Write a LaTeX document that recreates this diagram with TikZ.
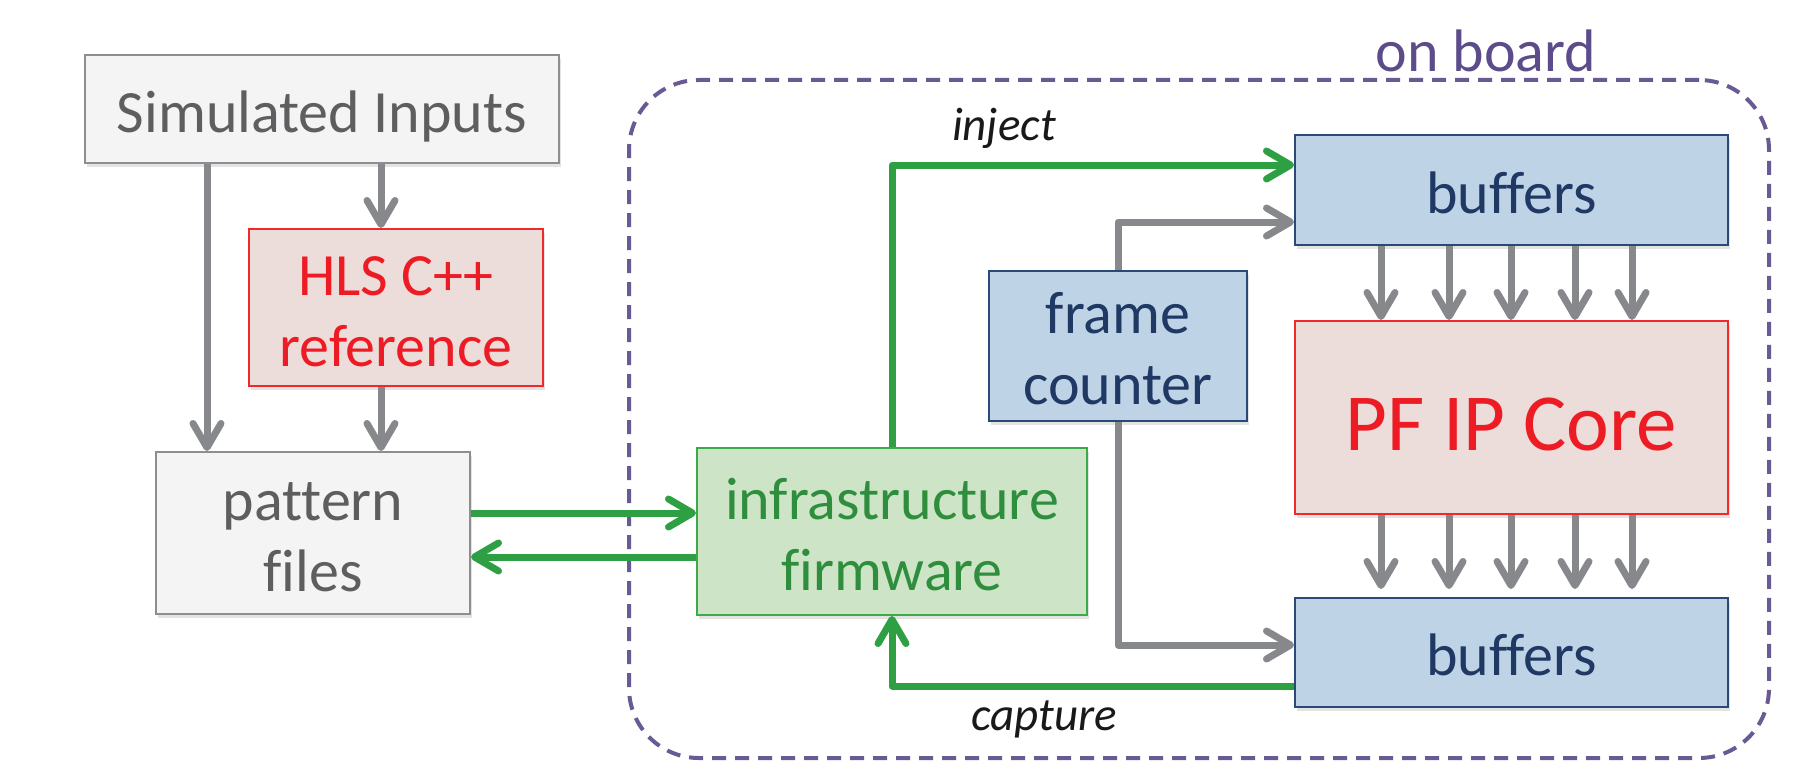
\documentclass[tikz,border=0pt]{standalone}
\usepackage{fontspec}
\setmainfont{Carlito}[Ligatures=CommonOff]
\usetikzlibrary{arrows.meta,shadows,calc}
\definecolor{gfill}{HTML}{F4F4F4}
\definecolor{gline}{HTML}{8E8E90}
\definecolor{gtext}{HTML}{5E5E61}
\definecolor{rfill}{HTML}{ECDDDA}
\definecolor{rline}{HTML}{EE2A2A}
\definecolor{rtext}{HTML}{ED1C24}
\definecolor{bfill}{HTML}{BED3E5}
\definecolor{bline}{HTML}{2A4A75}
\definecolor{btext}{HTML}{1F3864}
\definecolor{grfill}{HTML}{CDE5C6}
\definecolor{grline}{HTML}{3DAA4A}
\definecolor{grtext}{HTML}{2E8E3E}
\definecolor{garrow}{HTML}{2EA043}
\definecolor{aarrow}{HTML}{87888C}
\definecolor{purp}{HTML}{6A5A93}
\definecolor{purptext}{HTML}{5D4C8A}
\begin{document}
\begin{tikzpicture}[x=1pt,y=-1pt,
  box/.style={draw, line width=2pt, inner sep=0pt, align=center,
    font=\fontsize{60}{71}\selectfont, text height=46pt, text depth=0pt,
    drop shadow={shadow xshift=1.5pt,shadow yshift=-4pt,opacity=0.22}},
  twoline/.style={text height=117pt, text depth=0pt},
  graybox/.style={box, fill=gfill, draw=gline, text=gtext},
  redbox/.style={box, fill=rfill, draw=rline, text=rtext},
  bluebox/.style={box, fill=bfill, draw=bline, text=btext},
  greenbox/.style={box, fill=grfill, draw=grline, text=grtext},
  board/.style={draw=purp, line width=4pt, dash pattern=on 14pt off 9pt, rounded corners=70pt, inner sep=0pt},
  grayarr/.style={line width=7pt, draw=aarrow, line join=round, -{Straight Barb[length=24pt,width=28pt,round]}},
  greenarr/.style={line width=7pt, draw=garrow, line join=round, -{Straight Barb[length=24pt,width=28pt,round]}},
  lbl/.style={font=\fontsize{47}{56}\selectfont\itshape, text=black!90, anchor=base, inner sep=0pt}
]
\useasboundingbox (0,0) rectangle (1793,773);

\node[board, minimum width=1140pt, minimum height=678pt] (brd) at (1199,419) {};
\node[anchor=base, inner sep=0pt, text=purptext, font=\fontsize{60}{71}\selectfont] (onb) at (1486,72) {on board};

\node[graybox, minimum width=474pt, minimum height=108pt] (sim) at (322,109) {Simulated Inputs};
\node[redbox, twoline, minimum width=294pt, minimum height=157pt] (hls) at (396,307.5) {HLS C++\\reference};
\node[graybox, twoline, minimum width=314pt, minimum height=162pt] (pat) at (313,533) {pattern\\files};
\node[greenbox, twoline, minimum width=390pt, minimum height=167pt] (infra) at (892,531.5) {infrastructure\\firmware};
\node[bluebox, twoline, minimum width=258pt, minimum height=150pt] (fc) at (1118,346) {frame\\counter};
\node[bluebox, minimum width=433pt, minimum height=110pt] (buf1) at (1511.5,190) {buffers};
\node[redbox, minimum width=433pt, minimum height=193pt, font=\fontsize{81}{97}\selectfont, text height=65pt] (pf) at (1511.5,417.5) {PF IP Core};
\node[bluebox, minimum width=433pt, minimum height=109pt] (buf2) at (1511.5,652.5) {buffers};

\node[lbl] (inj) at (1004,140) {inject};
\node[lbl] (cap) at (1044,730) {capture};

% left side connectors
\coordinate (xl) at (207,0);
\coordinate (xr) at (381,0);
\draw[grayarr] (sim.south -| xl) -- (pat.north -| xl);
\draw[grayarr] (sim.south -| xr) -- (hls.north -| xr);
\draw[grayarr] (hls.south -| xr) -- (pat.north -| xr);

\coordinate (ya) at (0,513);
\coordinate (yb) at (0,557);
\draw[greenarr] (pat.east |- ya) -- (infra.west |- ya);
\draw[greenarr] (infra.west |- yb) -- (pat.east |- yb);

% inject / capture
\coordinate (yi) at (0,165);
\draw[greenarr] (infra.north) -- (infra.north |- yi) -- (buf1.west |- yi);
\coordinate (yc) at (0,686);
\draw[greenarr] (buf2.west |- yc) -- (infra.south |- yc) -- (infra.south);

% frame counter
\coordinate (yg) at (0,222);
\draw[grayarr] (fc.north) -- (fc.north |- yg) -- (buf1.west |- yg);
\coordinate (yh) at (0,645);
\draw[grayarr] (fc.south) -- (fc.south |- yh) -- (buf2.west |- yh);

% buses
\foreach \x [count=\i] in {1381,1449,1511,1575,1632} {
  \coordinate (d\i) at (\x,0);
  \draw[grayarr] (buf1.south -| d\i) -- (pf.north -| d\i);
  \draw[grayarr, shorten >=8pt] (pf.south -| d\i) -- (buf2.north -| d\i);
}
\end{tikzpicture}
\end{document}
